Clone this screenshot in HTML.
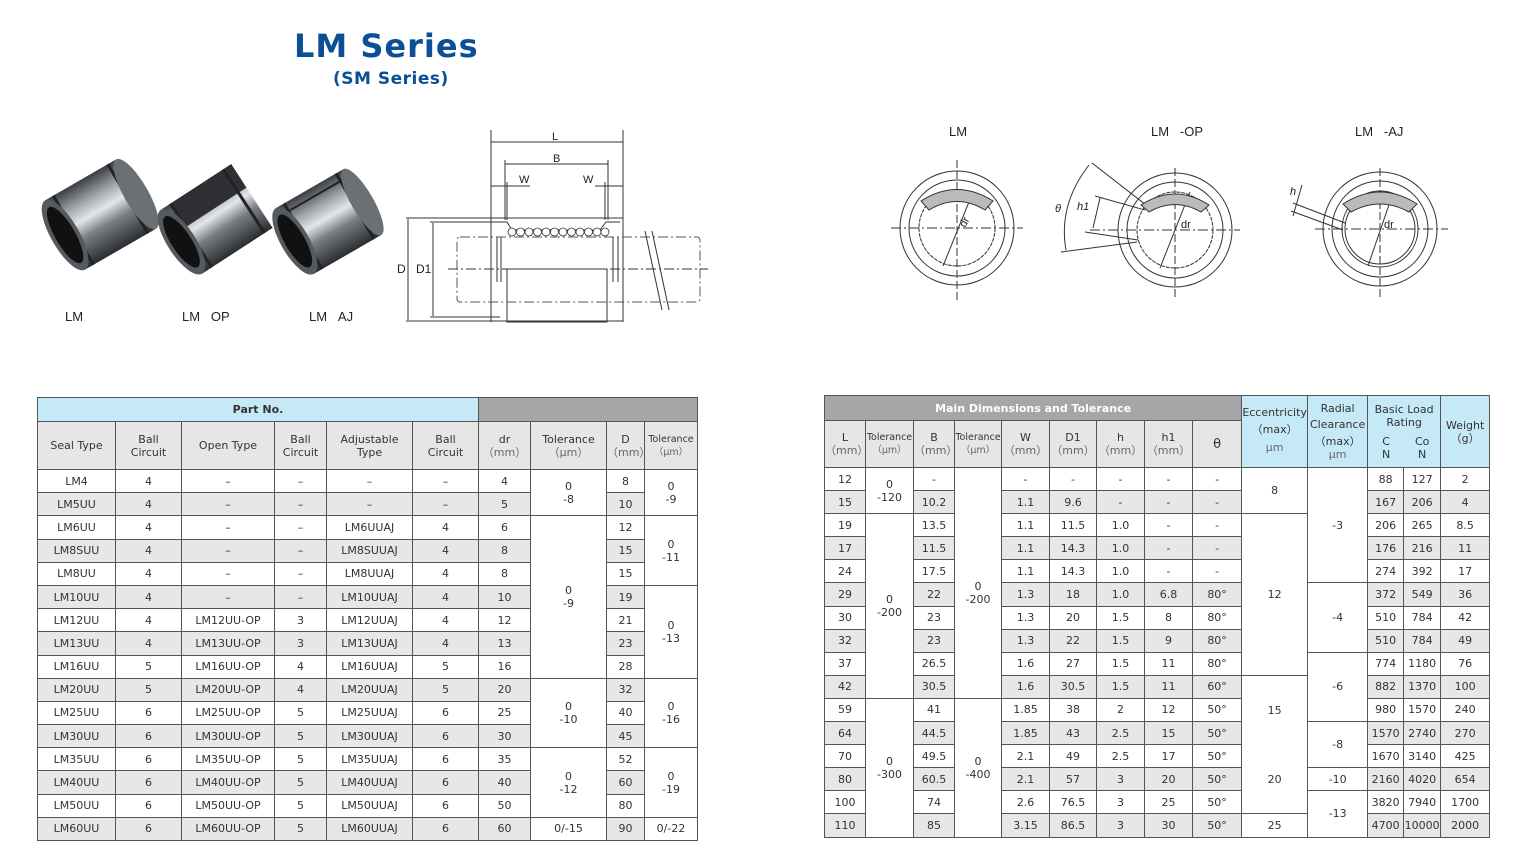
<!DOCTYPE html>
<html><head><meta charset="utf-8">
<style>
*{margin:0;padding:0;box-sizing:border-box}
body{width:1538px;height:864px;background:#fff;position:relative;overflow:hidden;font-family:"DejaVu Sans","Liberation Sans",sans-serif;color:#333}
.t1{position:absolute;left:294px;top:27px;font:bold 32px "DejaVu Sans",sans-serif;color:#0b4f96;letter-spacing:1px}
.t2{position:absolute;left:333px;top:69px;font:bold 17px "DejaVu Sans",sans-serif;color:#0b4f96;letter-spacing:0.5px}
.lbl{position:absolute;font:13px "Liberation Sans",sans-serif;color:#222}
table{position:absolute;border-collapse:collapse;table-layout:fixed;font-size:11px}
td{border:1px solid #555;text-align:center;vertical-align:middle;line-height:13px;white-space:nowrap;overflow:hidden}
tr.d:nth-child(even) td{background:#e6e7e8}
tr.d td.w, tr.d:nth-child(even) td.w{background:#fff}
.hb{background:#c6e9f8}
.hg{background:#e6e6e6}
.hd{background:#a6a6a8}
.sm{font-size:9.5px}
.gr{color:#666}
</style></head><body>
<div class="t1">LM Series</div>
<div class="t2">(SM Series)</div>

<svg width="1538" height="340" style="position:absolute;left:0;top:0" font-family="Liberation Sans,sans-serif">
<defs>
<linearGradient id="cy" x1="0" y1="0" x2="0" y2="1">
<stop offset="0" stop-color="#3a3d42"/><stop offset="0.25" stop-color="#9ea3a8"/><stop offset="0.45" stop-color="#e4e6e8"/><stop offset="0.65" stop-color="#7a7f85"/><stop offset="1" stop-color="#2a2c30"/>
</linearGradient>
</defs>
<g transform="translate(98,216) rotate(-30)">
<rect x="-38" y="-40" width="82" height="80" fill="url(#cy)"/>
<rect x="-30" y="-40" width="3" height="80" fill="#222"/>
<rect x="33" y="-40" width="3" height="80" fill="#222"/>
<ellipse cx="44" cy="0" rx="12" ry="40" fill="#6b7075"/>
<ellipse cx="-38" cy="0" rx="14" ry="40" fill="#555a60"/>
<ellipse cx="-38" cy="0" rx="10" ry="32" fill="#111"/>
</g>
<g transform="translate(215,220) rotate(-33)">
<rect x="-40" y="-38" width="84" height="76" fill="url(#cy)"/>
<path d="M-30,-38 L44,-38 L44,-10 L-30,-10 Z" fill="#2e3034"/>
<rect x="-30" y="-38" width="3" height="76" fill="#222"/>
<rect x="33" y="-38" width="3" height="76" fill="#222"/>
<ellipse cx="-40" cy="0" rx="14" ry="38" fill="#555a60"/>
<ellipse cx="-40" cy="0" rx="10" ry="30" fill="#111"/>
</g>
<g transform="translate(326,223) rotate(-30)">
<rect x="-36" y="-38" width="78" height="76" fill="url(#cy)"/>
<rect x="-28" y="-38" width="3" height="76" fill="#222"/>
<rect x="32" y="-38" width="3" height="76" fill="#222"/>
<rect x="-36" y="-30" width="78" height="2" fill="#222"/>
<ellipse cx="42" cy="0" rx="11" ry="38" fill="#6b7075"/>
<ellipse cx="-36" cy="0" rx="14" ry="38" fill="#555a60"/>
<ellipse cx="-36" cy="0" rx="10" ry="30" fill="#111"/>
</g>

<g stroke="#333" stroke-width="1" fill="none">
<line x1="491" y1="130" x2="491" y2="322"/><line x1="623" y1="130" x2="623" y2="322"/>
<line x1="491" y1="142" x2="623" y2="142"/>
<line x1="505" y1="160" x2="505" y2="220"/><line x1="608" y1="160" x2="608" y2="220"/>
<line x1="505" y1="164" x2="608" y2="164"/>
<line x1="507" y1="182" x2="507" y2="220"/><line x1="605" y1="182" x2="605" y2="220"/>
<line x1="491" y1="186" x2="530" y2="186"/><line x1="595" y1="186" x2="623" y2="186"/>
<line x1="406" y1="218" x2="623" y2="218"/><line x1="430" y1="222" x2="500" y2="222"/>
<line x1="406" y1="321" x2="623" y2="321"/><line x1="430" y1="317" x2="500" y2="317"/>
<line x1="408" y1="219" x2="408" y2="320"/><line x1="433" y1="223" x2="433" y2="316"/>
<path d="M495,222 L507,222 L512,230 L600,230 L606,222 L620,222"/>
<line x1="497" y1="237" x2="497" y2="282"/><line x1="501" y1="237" x2="501" y2="282"/>
<line x1="613" y1="237" x2="613" y2="282"/><line x1="618" y1="237" x2="618" y2="282"/>
<rect x="507" y="269" width="100" height="53"/>
<rect x="457" y="237" width="243" height="65" rx="3" stroke-dasharray="10,3,2,3" stroke="#555"/>
<line x1="448" y1="269" x2="708" y2="269" stroke-dasharray="10,3,2,3"/>
<line x1="645" y1="231" x2="662" y2="310"/><line x1="652" y1="231" x2="669" y2="310"/>
</g>
<g fill="#fff" stroke="#333" stroke-width="0.8">
<circle cx="512" cy="232" r="4"/><circle cx="520.5" cy="232" r="4"/><circle cx="529" cy="232" r="4"/><circle cx="537.5" cy="232" r="4"/><circle cx="546" cy="232" r="4"/><circle cx="554.5" cy="232" r="4"/><circle cx="563" cy="232" r="4"/><circle cx="571.5" cy="232" r="4"/><circle cx="580" cy="232" r="4"/><circle cx="588.5" cy="232" r="4"/><circle cx="597" cy="232" r="4"/><circle cx="605" cy="232" r="4"/>
</g>
<g fill="#222" font-size="11">
<text x="552" y="140">L</text><text x="553" y="162">B</text>
<text x="519" y="183">W</text><text x="583" y="183">W</text>
<text x="397" y="273" font-size="12">D</text><text x="416" y="273" font-size="12">D1</text>
</g>
<g fill="#222" font-size="13">
<text x="949" y="136">LM</text><text x="1151" y="136">LM&#160;&#160;&#160;-OP</text><text x="1355" y="136">LM&#160;&#160;&#160;-AJ</text>
</g>
<g stroke="#333" fill="none" stroke-width="1">
<circle cx="957" cy="228" r="57"/><circle cx="957" cy="228" r="48"/><circle cx="957" cy="228" r="38" stroke-dasharray="4,1"/>
<line x1="957" y1="160" x2="957" y2="300" stroke-dasharray="8,3"/>
<line x1="891" y1="228" x2="1023" y2="228" stroke-dasharray="10,3,2,3"/>
<line x1="943" y1="266" x2="973" y2="192"/>
<path d="M921,201 Q957,178 993,201 L985,210 Q957,193 929,210Z" fill="#bbb"/>
<circle cx="1175" cy="230" r="57"/><circle cx="1175" cy="230" r="48"/><circle cx="1175" cy="230" r="38" stroke-dasharray="4,1"/>
<line x1="1175" y1="168" x2="1175" y2="300" stroke-dasharray="8,3"/>
<line x1="1090" y1="230" x2="1240" y2="230" stroke-dasharray="10,3,2,3"/>
<line x1="1160" y1="268" x2="1190" y2="192"/>
<line x1="1092" y1="163" x2="1146" y2="205"/><line x1="1095" y1="196" x2="1145" y2="210"/>
<line x1="1085" y1="232" x2="1138" y2="240"/><line x1="1061" y1="252" x2="1137" y2="242"/>
<path d="M1089,165 Q1058,205 1066,250"/><line x1="1100" y1="198" x2="1093" y2="228"/>
<path d="M1141,205 Q1175,183 1209,205 L1201,212 Q1175,197 1149,212Z" fill="#bbb"/>
<circle cx="1380" cy="229" r="57"/><circle cx="1380" cy="229" r="48"/><circle cx="1380" cy="229" r="38"/><circle cx="1380" cy="229" r="35"/>
<line x1="1380" y1="168" x2="1380" y2="300" stroke-dasharray="8,3"/>
<line x1="1315" y1="229" x2="1448" y2="229" stroke-dasharray="10,3,2,3"/>
<line x1="1368" y1="266" x2="1392" y2="196"/>
<line x1="1293" y1="203" x2="1345" y2="223"/><line x1="1291" y1="211" x2="1343" y2="230"/>
<line x1="1302" y1="185" x2="1293" y2="216"/>
<path d="M1343,204 Q1380,180 1417,204 L1409,212 Q1380,196 1351,212Z" fill="#bbb"/>
</g>
<g fill="#222" font-size="11">
<text x="965" y="228" transform="rotate(-60 965 228)">dr</text>
<text x="1181" y="228">dr</text><text x="1384" y="228">dr</text>
<text x="1055" y="212" font-style="italic">θ</text><text x="1077" y="210" font-style="italic">h1</text>
<text x="1290" y="195" font-style="italic">h</text>
</g>
</svg>
<div class="lbl" style="left:65px;top:309px">LM</div>
<div class="lbl" style="left:182px;top:309px">LM&#160;&#160;&#160;OP</div>
<div class="lbl" style="left:309px;top:309px">LM&#160;&#160;&#160;AJ</div>

<table style="left:37px;top:397px;width:660px">
<colgroup><col style="width:78px"><col style="width:66px"><col style="width:93px"><col style="width:52px"><col style="width:86px"><col style="width:66px"><col style="width:52px"><col style="width:76px"><col style="width:38px"><col style="width:53px"></colgroup>
<tr style="height:24px"><td colspan="6" class="hb"><b>Part No.</b></td><td colspan="4" class="hd"></td></tr>
<tr style="height:48px" class="hg"><td class="hg">Seal Type</td><td class="hg">Ball<br>Circuit</td><td class="hg">Open Type</td><td class="hg">Ball<br>Circuit</td><td class="hg">Adjustable<br>Type</td><td class="hg">Ball<br>Circuit</td><td class="hg">dr<br><span class="gr">（mm）</span></td><td class="hg">Tolerance<br><span class="gr">（μm）</span></td><td class="hg">D<br><span class="gr">（mm）</span></td><td class="hg sm">Tolerance<br><span class="gr">（μm）</span></td></tr>
<tr class="d" style="height:23.2px"><td>LM4</td><td>4</td><td>–</td><td>–</td><td>–</td><td>–</td><td>4</td><td rowspan="2" class="w">0<br>-8</td><td>8</td><td rowspan="2" class="w">0<br>-9</td></tr>
<tr class="d" style="height:23.2px"><td>LM5UU</td><td>4</td><td>–</td><td>–</td><td>–</td><td>–</td><td>5</td><td>10</td></tr>
<tr class="d" style="height:23.2px"><td>LM6UU</td><td>4</td><td>–</td><td>–</td><td>LM6UUAJ</td><td>4</td><td>6</td><td rowspan="7" class="w">0<br>-9</td><td>12</td><td rowspan="3" class="w">0<br>-11</td></tr>
<tr class="d" style="height:23.2px"><td>LM8SUU</td><td>4</td><td>–</td><td>–</td><td>LM8SUUAJ</td><td>4</td><td>8</td><td>15</td></tr>
<tr class="d" style="height:23.2px"><td>LM8UU</td><td>4</td><td>–</td><td>–</td><td>LM8UUAJ</td><td>4</td><td>8</td><td>15</td></tr>
<tr class="d" style="height:23.2px"><td>LM10UU</td><td>4</td><td>–</td><td>–</td><td>LM10UUAJ</td><td>4</td><td>10</td><td>19</td><td rowspan="4" class="w">0<br>-13</td></tr>
<tr class="d" style="height:23.2px"><td>LM12UU</td><td>4</td><td>LM12UU-OP</td><td>3</td><td>LM12UUAJ</td><td>4</td><td>12</td><td>21</td></tr>
<tr class="d" style="height:23.2px"><td>LM13UU</td><td>4</td><td>LM13UU-OP</td><td>3</td><td>LM13UUAJ</td><td>4</td><td>13</td><td>23</td></tr>
<tr class="d" style="height:23.2px"><td>LM16UU</td><td>5</td><td>LM16UU-OP</td><td>4</td><td>LM16UUAJ</td><td>5</td><td>16</td><td>28</td></tr>
<tr class="d" style="height:23.2px"><td>LM20UU</td><td>5</td><td>LM20UU-OP</td><td>4</td><td>LM20UUAJ</td><td>5</td><td>20</td><td rowspan="3" class="w">0<br>-10</td><td>32</td><td rowspan="3" class="w">0<br>-16</td></tr>
<tr class="d" style="height:23.2px"><td>LM25UU</td><td>6</td><td>LM25UU-OP</td><td>5</td><td>LM25UUAJ</td><td>6</td><td>25</td><td>40</td></tr>
<tr class="d" style="height:23.2px"><td>LM30UU</td><td>6</td><td>LM30UU-OP</td><td>5</td><td>LM30UUAJ</td><td>6</td><td>30</td><td>45</td></tr>
<tr class="d" style="height:23.2px"><td>LM35UU</td><td>6</td><td>LM35UU-OP</td><td>5</td><td>LM35UUAJ</td><td>6</td><td>35</td><td rowspan="3" class="w">0<br>-12</td><td>52</td><td rowspan="3" class="w">0<br>-19</td></tr>
<tr class="d" style="height:23.2px"><td>LM40UU</td><td>6</td><td>LM40UU-OP</td><td>5</td><td>LM40UUAJ</td><td>6</td><td>40</td><td>60</td></tr>
<tr class="d" style="height:23.2px"><td>LM50UU</td><td>6</td><td>LM50UU-OP</td><td>5</td><td>LM50UUAJ</td><td>6</td><td>50</td><td>80</td></tr>
<tr class="d" style="height:23.2px"><td>LM60UU</td><td>6</td><td>LM60UU-OP</td><td>5</td><td>LM60UUAJ</td><td>6</td><td>60</td><td class="w">0/-15</td><td>90</td><td class="w">0/-22</td></tr>
</table>

<table style="left:824px;top:395px;width:665px">
<colgroup><col style="width:41px"><col style="width:48px"><col style="width:41px"><col style="width:47px"><col style="width:48px"><col style="width:47px"><col style="width:48px"><col style="width:48px"><col style="width:49px"><col style="width:66px"><col style="width:60px"><col style="width:36px"><col style="width:37px"><col style="width:49px"></colgroup>
<tr style="height:25px"><td colspan="9" class="hd" style="color:#fff"><b>Main Dimensions and Tolerance</b></td>
<td rowspan="2" class="hb" style="vertical-align:top;padding-top:10px">Eccentricity<br><span style="line-height:22px">（max）</span><br><span class="gr">μm</span></td>
<td rowspan="2" class="hb">Radial<br><span style="line-height:20px">Clearance</span><br>（max）<br><span class="gr">μm</span></td>
<td rowspan="2" colspan="2" class="hb">Basic Load<br>Rating<div style="display:flex;margin-top:6px"><div style="flex:1">C<br>N</div><div style="flex:1">Co<br>N</div></div></td>
<td rowspan="2" class="hb">Weight<br>（g）</td></tr>
<tr style="height:47px"><td class="hg">L<br><span class="gr">（mm）</span></td><td class="hg sm">Tolerance<br><span class="gr">（μm）</span></td><td class="hg">B<br><span class="gr">（mm）</span></td><td class="hg sm">Tolerance<br><span class="gr">（μm）</span></td><td class="hg">W<br><span class="gr">（mm）</span></td><td class="hg">D1<br><span class="gr">（mm）</span></td><td class="hg">h<br><span class="gr">（mm）</span></td><td class="hg">h1<br><span class="gr">（mm）</span></td><td class="hg" style="font-size:13px">θ</td></tr>
<tr class="d" style="height:23.1px"><td>12</td><td rowspan="2" class="w">0<br>-120</td><td>-</td><td rowspan="10" class="w" style="padding-top:20px">0<br>-200</td><td>-</td><td>-</td><td>-</td><td>-</td><td>-</td><td rowspan="2" class="w">8</td><td rowspan="5" class="w">-3</td><td>88</td><td>127</td><td>2</td></tr>
<tr class="d" style="height:23.1px"><td>15</td><td>10.2</td><td>1.1</td><td>9.6</td><td>-</td><td>-</td><td>-</td><td>167</td><td>206</td><td>4</td></tr>
<tr class="d" style="height:23.1px"><td>19</td><td rowspan="8" class="w">0<br>-200</td><td>13.5</td><td>1.1</td><td>11.5</td><td>1.0</td><td>-</td><td>-</td><td rowspan="7" class="w">12</td><td>206</td><td>265</td><td>8.5</td></tr>
<tr class="d" style="height:23.1px"><td>17</td><td>11.5</td><td>1.1</td><td>14.3</td><td>1.0</td><td>-</td><td>-</td><td>176</td><td>216</td><td>11</td></tr>
<tr class="d" style="height:23.1px"><td>24</td><td>17.5</td><td>1.1</td><td>14.3</td><td>1.0</td><td>-</td><td>-</td><td>274</td><td>392</td><td>17</td></tr>
<tr class="d" style="height:23.1px"><td>29</td><td>22</td><td>1.3</td><td>18</td><td>1.0</td><td>6.8</td><td>80°</td><td rowspan="3" class="w">-4</td><td>372</td><td>549</td><td>36</td></tr>
<tr class="d" style="height:23.1px"><td>30</td><td>23</td><td>1.3</td><td>20</td><td>1.5</td><td>8</td><td>80°</td><td>510</td><td>784</td><td>42</td></tr>
<tr class="d" style="height:23.1px"><td>32</td><td>23</td><td>1.3</td><td>22</td><td>1.5</td><td>9</td><td>80°</td><td>510</td><td>784</td><td>49</td></tr>
<tr class="d" style="height:23.1px"><td>37</td><td>26.5</td><td>1.6</td><td>27</td><td>1.5</td><td>11</td><td>80°</td><td rowspan="3" class="w">-6</td><td>774</td><td>1180</td><td>76</td></tr>
<tr class="d" style="height:23.1px"><td>42</td><td>30.5</td><td>1.6</td><td>30.5</td><td>1.5</td><td>11</td><td>60°</td><td rowspan="3" class="w" style="border-bottom:none">15</td><td>882</td><td>1370</td><td>100</td></tr>
<tr class="d" style="height:23.1px"><td>59</td><td rowspan="6" class="w">0<br>-300</td><td>41</td><td rowspan="6" class="w">0<br>-400</td><td>1.85</td><td>38</td><td>2</td><td>12</td><td>50°</td><td>980</td><td>1570</td><td>240</td></tr>
<tr class="d" style="height:23.1px"><td>64</td><td>44.5</td><td>1.85</td><td>43</td><td>2.5</td><td>15</td><td>50°</td><td rowspan="2" class="w">-8</td><td>1570</td><td>2740</td><td>270</td></tr>
<tr class="d" style="height:23.1px"><td>70</td><td>49.5</td><td>2.1</td><td>49</td><td>2.5</td><td>17</td><td>50°</td><td rowspan="3" class="w" style="border-top:none">20</td><td>1670</td><td>3140</td><td>425</td></tr>
<tr class="d" style="height:23.1px"><td>80</td><td>60.5</td><td>2.1</td><td>57</td><td>3</td><td>20</td><td>50°</td><td class="w">-10</td><td>2160</td><td>4020</td><td>654</td></tr>
<tr class="d" style="height:23.1px"><td>100</td><td>74</td><td>2.6</td><td>76.5</td><td>3</td><td>25</td><td>50°</td><td rowspan="2" class="w">-13</td><td>3820</td><td>7940</td><td>1700</td></tr>
<tr class="d" style="height:23.1px"><td>110</td><td>85</td><td>3.15</td><td>86.5</td><td>3</td><td>30</td><td>50°</td><td class="w">25</td><td>4700</td><td>10000</td><td>2000</td></tr>
</table>
</body></html>
